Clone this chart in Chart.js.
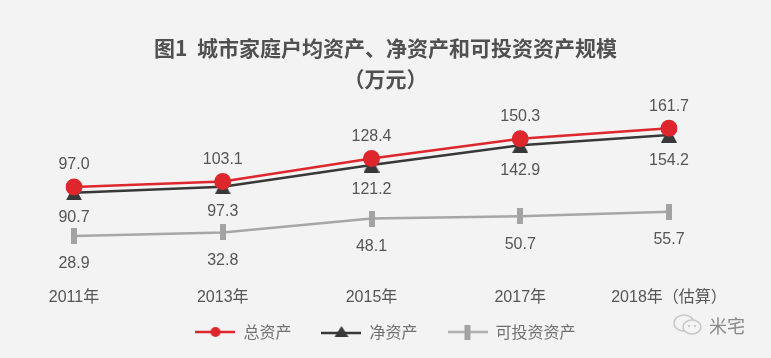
<!DOCTYPE html>
<html><head><meta charset="utf-8">
<script src="https://cdn.jsdelivr.net/npm/chart.js@4"></script>
<style>
html,body{margin:0;padding:0;background:#f3f3f3;}
#wrap{position:relative;width:771px;height:358px;overflow:hidden;background:#f3f3f3;}
#wm{position:absolute;left:672px;top:313px;height:24px;display:flex;align-items:center;color:#8a8a8a;font:18px "Noto Sans CJK SC",sans-serif;}
#wm svg{margin-right:5px;}
</style>
</head><body>
<div id="wrap">
<canvas id="c" width="771" height="358"></canvas>
<div id="wm"><svg width="32" height="24" viewBox="0 0 32 24"><ellipse cx="12" cy="10" rx="10" ry="8" fill="none" stroke="#c8c8c8" stroke-width="1.5"/><ellipse cx="20" cy="14" rx="9" ry="7" fill="#f3f3f3" stroke="#c8c8c8" stroke-width="1.5"/><circle cx="17" cy="13" r="1" fill="#bbb"/><circle cx="23" cy="13" r="1" fill="#bbb"/></svg><span>米宅</span></div>
</div>
<script>
const categories = ['2011年', '2013年', '2015年', '2017年', '2018年（估算）'];
const totalAssets = [97.0, 103.1, 128.4, 150.3, 161.7];
const netAssets = [90.7, 97.3, 121.2, 142.9, 154.2];
const investableAssets = [28.9, 32.8, 48.1, 50.7, 55.7];
const seriesNames = ['总资产', '净资产', '可投资资产'];
const titleLines = ['图1  城市家庭户均资产、净资产和可投资资产规模', '（万元）'];

const RED = '#dd272d', BLACK = '#383838', GRAY = '#a6a6a6';

function mk(w, h, draw) { const c = document.createElement('canvas'); c.width = w; c.height = h; draw(c.getContext('2d')); return c; }
const triMarker = mk(16, 15, g => { g.fillStyle = BLACK; g.beginPath(); g.moveTo(8, 0); g.lineTo(16, 15); g.lineTo(0, 15); g.closePath(); g.fill(); });
const barMarker = mk(6, 16, g => { g.fillStyle = '#a3a3a3'; g.fillRect(0, 0, 6, 16); });

const legendIcons = [
  mk(40, 16, g => { g.strokeStyle = RED; g.lineWidth = 2.5; g.beginPath(); g.moveTo(0, 8); g.lineTo(40, 8); g.stroke(); g.fillStyle = RED; g.beginPath(); g.arc(20, 8, 5, 0, Math.PI * 2); g.fill(); }),
  mk(40, 16, g => { g.strokeStyle = BLACK; g.lineWidth = 2.5; g.beginPath(); g.moveTo(0, 9); g.lineTo(40, 9); g.stroke(); g.fillStyle = BLACK; g.beginPath(); g.moveTo(20, 2); g.lineTo(27, 13); g.lineTo(13, 13); g.closePath(); g.fill(); }),
  mk(40, 16, g => { g.strokeStyle = '#b0b0b0'; g.lineWidth = 2.5; g.beginPath(); g.moveTo(0, 8); g.lineTo(40, 8); g.stroke(); g.fillStyle = '#a3a3a3'; g.fillRect(17, 1, 6, 15); })
];

const valueLabels = {
  id: 'valueLabels',
  afterDatasetsDraw(chart) {
    const ctx = chart.ctx;
    ctx.save();
    ctx.font = '16px "Liberation Sans", Arial, sans-serif';
    ctx.fillStyle = '#555';
    ctx.textAlign = 'center';
    ctx.textBaseline = 'middle';
    chart.data.datasets.forEach((ds, i) => {
      chart.getDatasetMeta(i).data.forEach((pt, j) => {
        ctx.fillText(ds.data[j].toFixed(1), pt.x, pt.y + ds.labelOffset);
      });
    });
    ctx.restore();
  }
};

new Chart(document.getElementById('c'), {
  type: 'line',
  data: {
    labels: categories,
    datasets: [
      { label: seriesNames[0], data: totalAssets, yAxisID: 'y', borderColor: RED, backgroundColor: RED, borderWidth: 2.5,
        pointStyle: 'circle', pointRadius: 8.5, pointBackgroundColor: RED, pointBorderColor: RED, pointBorderWidth: 0, labelOffset: -22 },
      { label: seriesNames[1], data: netAssets, yAxisID: 'y', borderColor: BLACK, backgroundColor: BLACK, borderWidth: 2.5,
        pointStyle: triMarker, pointRadius: 8, labelOffset: 25 },
      { label: seriesNames[2], data: investableAssets, yAxisID: 'y2', borderColor: GRAY, backgroundColor: GRAY, borderWidth: 2.5,
        pointStyle: barMarker, pointRadius: 8, labelOffset: 28 }
    ]
  },
  options: {
    responsive: false,
    animation: false,
    devicePixelRatio: 1,
    layout: { padding: { left: 0, right: 0, top: 0, bottom: 8 } },
    elements: { line: { tension: 0 } },
    scales: {
      x: {
        offset: false,
        grid: { display: false, drawTicks: false },
        border: { display: false },
        ticks: { color: '#555', font: { size: 16, family: '"Liberation Sans", "Noto Sans CJK SC", sans-serif' }, padding: -37, autoSkip: false, maxRotation: 0, mirror: true },
        afterFit(s) { s.height = 24; }
      },
      y: {
        position: 'left', min: 5.5, max: 192.9,
        grid: { display: false, drawTicks: false }, border: { display: false },
        ticks: { display: false },
        afterFit(s) { s.width = 74; }
      },
      y2: {
        position: 'right', min: -8.6, max: 178.8,
        grid: { display: false, drawTicks: false }, border: { display: false },
        ticks: { display: false },
        afterFit(s) { s.width = 102; }
      }
    },
    plugins: {
      title: {
        display: true, text: titleLines, color: '#505050',
        font: { size: 21, weight: 'bold', lineHeight: 1.5, family: '"Noto Sans CJK SC", sans-serif' },
        padding: { top: 32, bottom: 5 }
      },
      legend: {
        display: true, position: 'bottom',
        labels: {
          usePointStyle: true, pointStyleWidth: 40, padding: 30, color: '#707070',
          font: { size: 16, family: '"Noto Sans CJK SC", sans-serif' },
          generateLabels(chart) {
            const items = Chart.defaults.plugins.legend.labels.generateLabels(chart);
            items.forEach((it, i) => { it.pointStyle = legendIcons[i]; });
            return items;
          }
        }
      },
      tooltip: { enabled: false }
    }
  },
  plugins: [valueLabels]
});
</script>
</body></html>
